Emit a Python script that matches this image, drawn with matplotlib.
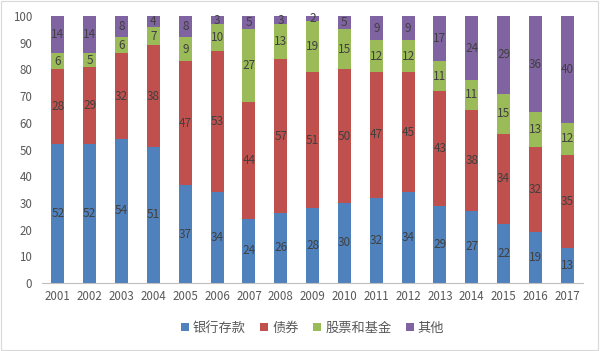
import matplotlib
matplotlib.use("Agg")
import matplotlib.pyplot as plt
from matplotlib.patches import Rectangle
import numpy as np

plt.rcParams['font.family'] = ['Noto Sans CJK SC', 'DejaVu Sans']

years = [str(y) for y in range(2001, 2018)]
bank = [52, 52, 54, 51, 37, 34, 24, 26, 28, 30, 32, 34, 29, 27, 22, 19, 13]
bonds = [28, 29, 32, 38, 47, 53, 44, 57, 51, 50, 47, 45, 43, 38, 34, 32, 35]
stocks = [6, 5, 6, 7, 9, 10, 27, 13, 19, 15, 12, 12, 11, 11, 15, 13, 12]
other = [14, 14, 8, 4, 8, 3, 5, 3, 2, 5, 9, 9, 17, 24, 29, 36, 40]

names = ['银行存款', '债券', '股票和基金', '其他']
colors = ['#4F81BD', '#C0504D', '#9BBB59', '#8064A2']
series = [bank, bonds, stocks, other]

# 100% stacked, like the spreadsheet chart
vals = np.array(series, dtype=float)
shares = vals / vals.sum(axis=0) * 100

fig = plt.figure(figsize=(6.0, 3.51), dpi=100)
ax = fig.add_axes([0.07, 0.194, 0.902, 0.760])

x = np.arange(len(years))
bottom = np.zeros(len(years))
for i in range(4):
    ax.bar(x, shares[i], 0.41, bottom=bottom, color=colors[i], label=names[i])
    for j in range(len(years)):
        ax.text(x[j], bottom[j] + shares[i][j] / 2, str(series[i][j]),
                ha='center', va='center', fontsize=8.5, color='#404040')
    bottom += shares[i]

ax.set_xlim(-0.5, len(years) - 0.5)
ax.set_ylim(0, 100)
ax.set_yticks(range(0, 101, 10))
ax.set_xticks(x)
ax.set_xticklabels(years)
ax.tick_params(axis='both', length=0, labelsize=8.3, colors='#595959')
ax.tick_params(axis='y', pad=7)
ax.tick_params(axis='x', pad=5)
for s in ['top', 'right', 'left']:
    ax.spines[s].set_visible(False)
ax.spines['bottom'].set_color('#BFBFBF')

ax.legend(loc='upper center', bbox_to_anchor=(0.5, -0.1), ncol=4, frameon=False,
          fontsize=9.5, handlelength=0.6, handleheight=0.6, handletextpad=0.3,
          columnspacing=1.1, labelcolor='#595959')

fig.patches.append(Rectangle((0.002, 0.003), 0.995, 0.993, transform=fig.transFigure,
                             fill=False, edgecolor='#D9D9D9', linewidth=0.8))

fig.savefig('out.png', dpi=100)
